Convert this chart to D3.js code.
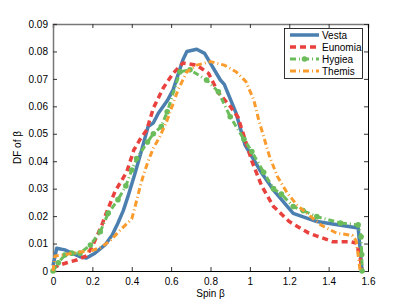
<!DOCTYPE html>
<html>
<head>
<meta charset="utf-8">
<script src="https://cdn.jsdelivr.net/npm/d3@7.9.0/dist/d3.min.js"></script>
<style>
  body { margin: 0; background: #fff; }
  svg { font-family: "Liberation Sans", Arial, sans-serif; }
</style>
</head>
<body>
<svg id="chart" width="407" height="306"></svg>
<script>
// spin β values
const vesta = [
  [0, 0.002], [0.019, 0.0083], [0.06, 0.0077], [0.137, 0.0052], [0.17, 0.0047],
  [0.213, 0.0065], [0.264, 0.0095], [0.3, 0.013], [0.33, 0.0175], [0.357, 0.022],
  [0.38, 0.027], [0.417, 0.0357], [0.45, 0.044], [0.483, 0.0526], [0.51, 0.054],
  [0.535, 0.0575], [0.58, 0.062], [0.61, 0.066], [0.66, 0.077],
  [0.68, 0.080], [0.73, 0.0808], [0.77, 0.0793], [0.85, 0.0696], [0.87, 0.068],
  [0.93, 0.0575], [0.975, 0.046], [1.06, 0.0357], [1.12, 0.0295], [1.22, 0.021],
  [1.34, 0.018], [1.55, 0.0157], [1.57, 0]
];
const eunomia = [
  [0, 0.001], [0.027, 0.002], [0.07, 0.003], [0.12, 0.004], [0.17, 0.0055],
  [0.2, 0.009], [0.247, 0.0165], [0.27, 0.021], [0.29, 0.0245], [0.315, 0.029],
  [0.374, 0.036], [0.41, 0.044], [0.44, 0.0477], [0.476, 0.0514], [0.51, 0.0594],
  [0.56, 0.0667], [0.61, 0.072], [0.66, 0.0758], [0.73, 0.075], [0.79, 0.072],
  [0.84, 0.065], [0.9, 0.06], [0.94, 0.056], [1.01, 0.04], [1.06, 0.031],
  [1.12, 0.0235], [1.2, 0.018], [1.3, 0.0138], [1.42, 0.0107], [1.51, 0.0107],
  [1.54, 0.0102], [1.56, 0.005], [1.57, 0]
];
const hygiea = [
  [0, 0], [0.027, 0.003], [0.06, 0.0058], [0.095, 0.0065], [0.137, 0.0065],
  [0.19, 0.0095], [0.24, 0.0143], [0.28, 0.021], [0.33, 0.026], [0.37, 0.031],
  [0.4, 0.0368], [0.425, 0.041], [0.48, 0.047], [0.51, 0.05], [0.55, 0.0526],
  [0.58, 0.058], [0.645, 0.0726], [0.696, 0.0733],
  [0.78, 0.0696], [0.84, 0.0653], [0.9, 0.0562], [0.97, 0.048], [1.01, 0.0435],
  [1.07, 0.036], [1.12, 0.03], [1.16, 0.028], [1.22, 0.0235], [1.27, 0.022],
  [1.34, 0.0198], [1.46, 0.0175], [1.55, 0.0168], [1.565, 0.0125],
  [1.568, 0.006], [1.57, 0]
];
const themis = [
  [0, 0], [0.01, 0.0055], [0.05, 0.0058], [0.1, 0.0065], [0.15, 0.007],
  [0.2, 0.0075], [0.24, 0.0085], [0.29, 0.011], [0.35, 0.0155], [0.4, 0.019],
  [0.417, 0.0235], [0.44, 0.03], [0.457, 0.0344], [0.483, 0.04], [0.51, 0.0448],
  [0.543, 0.049], [0.58, 0.055], [0.6, 0.059], [0.635, 0.066], [0.68, 0.0726],
  [0.73, 0.075], [0.8, 0.0763], [0.87, 0.075], [0.93, 0.0726], [0.98, 0.069],
  [1.02, 0.0623], [1.045, 0.055], [1.07, 0.049], [1.1, 0.0417], [1.14, 0.0344],
  [1.19, 0.0284], [1.24, 0.024], [1.3, 0.0204], [1.36, 0.0168], [1.44, 0.0138],
  [1.52, 0.013], [1.54, 0.011], [1.55, 0.0058], [1.56, 0]
];
const xTicks = [0, 0.2, 0.4, 0.6, 0.8, 1, 1.2, 1.4, 1.6];
const yTicks = [0, 0.01, 0.02, 0.03, 0.04, 0.05, 0.06, 0.07, 0.08, 0.09];

const series = [
  { name: 'Vesta', data: vesta, color: '#4a7fb0', width: 3.5, dash: null },
  { name: 'Eunomia', data: eunomia, color: '#e8413e', width: 3.5, dash: '6,4' },
  { name: 'Hygiea', data: hygiea, color: '#6bbd5b', width: 3, dash: '6,3,1,3', marker: true },
  { name: 'Themis', data: themis, color: '#f99b2d', width: 3, dash: '6,3,1,3' }
];

const svg = d3.select('#chart');
const mLeft = 53, mRight = 368, mTop = 24, mBottom = 271;

const x = d3.scaleLinear().domain([0, 1.6]).range([mLeft, mRight]);
const y = d3.scaleLinear().domain([0, 0.09]).range([mBottom, mTop]);

// axes with inward ticks, mirrored on top and right
const fmt = d => d3.format('~g')(d);
svg.append('g').attr('transform', `translate(0,${mBottom})`)
  .call(d3.axisBottom(x).tickValues(xTicks).tickSize(-4).tickPadding(7).tickFormat(fmt));
const topAxis = svg.append('g').attr('transform', `translate(0,${mTop})`)
  .call(d3.axisTop(x).tickValues(xTicks).tickSize(-4).tickFormat(''));
const leftAxis = svg.append('g').attr('transform', `translate(${mLeft},0)`)
  .call(d3.axisLeft(y).tickValues(yTicks).tickSize(-4).tickPadding(5).tickFormat(fmt));
svg.append('g').attr('transform', `translate(${mRight},0)`)
  .call(d3.axisRight(y).tickValues(yTicks).tickSize(-4).tickFormat(''));

svg.selectAll('.domain').attr('stroke', '#000').attr('stroke-width', 1);
topAxis.select('.domain').attr('stroke', '#777').attr('stroke-width', 1.5);
leftAxis.select('.domain').attr('stroke', '#777').attr('stroke-width', 1.5);
svg.selectAll('.tick line').attr('stroke', '#333');
svg.selectAll('.tick text').attr('font-size', 10).attr('fill', '#000')
  .attr('font-family', '"Liberation Sans", Arial, sans-serif');

const line = d3.line().x(d => x(d[0])).y(d => y(d[1]));

const plot = svg.append('g');
series.forEach(s => {
  plot.append('path')
    .attr('d', line(s.data))
    .attr('fill', 'none')
    .attr('stroke', s.color)
    .attr('stroke-width', s.width)
    .attr('stroke-dasharray', s.dash)
    .attr('stroke-linejoin', 'round');
  if (s.marker) {
    plot.selectAll(null).data(s.data).enter().append('circle')
      .attr('cx', d => x(d[0])).attr('cy', d => y(d[1]))
      .attr('r', 2.8).attr('fill', s.color);
  }
});

// axis labels
svg.append('text').attr('x', (mLeft + mRight) / 2).attr('y', 297)
  .attr('text-anchor', 'middle').attr('font-size', 10).text('Spin β');
svg.append('text').attr('transform', `translate(21,${(mTop + mBottom) / 2}) rotate(-90)`)
  .attr('text-anchor', 'middle').attr('font-size', 10).text('DF of β');

// legend
const lg = svg.append('g');
lg.append('rect').attr('x', 284.5).attr('y', 28.5).attr('width', 78).attr('height', 50)
  .attr('fill', '#fff').attr('stroke', '#000').attr('stroke-width', 0.8);
series.forEach((s, i) => {
  const yy = 35 + i * 12;
  lg.append('line').attr('x1', 290).attr('x2', 319).attr('y1', yy).attr('y2', yy)
    .attr('stroke', s.color).attr('stroke-width', s.width)
    .attr('stroke-dasharray', s.dash);
  if (s.marker) {
    lg.append('circle').attr('cx', 304.5).attr('cy', yy).attr('r', 2.8).attr('fill', s.color);
  }
  lg.append('text').attr('x', 322).attr('y', yy + 3.5).attr('font-size', 10).text(s.name);
});
</script>
</body>
</html>
